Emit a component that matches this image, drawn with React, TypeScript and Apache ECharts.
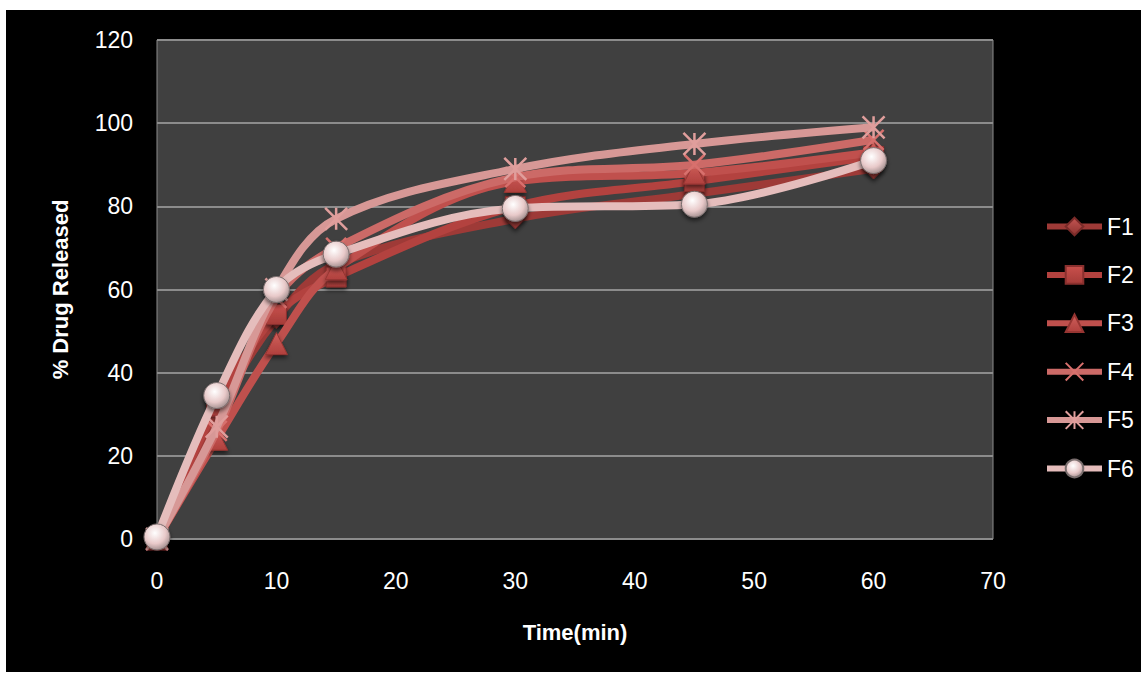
import React, { useEffect, useRef } from "react";
import * as echarts from "echarts";

const times = [0, 5, 10, 15, 30, 45, 60];
const F1 = [0, 30, 53, 66, 77, 83, 89];
const F2 = [0, 32, 54, 63, 80, 86, 92];
const F3 = [0, 24, 47, 65, 86, 88, 93];
const F4 = [0, 26, 58, 70, 87, 90, 96];
const F5 = [0, 27, 60, 77, 89, 95, 99];
const F6 = [0.5, 34.5, 60, 68.5, 79.5, 80.5, 91];
const seriesNames = ["F1", "F2", "F3", "F4", "F5", "F6"];
const seriesValues = [F1, F2, F3, F4, F5, F6];
const xTitle = "Time(min)";
const yTitle = "% Drug Released";

const lineColors = ["#9E3A37", "#B3423F", "#C0504D", "#CC6A67", "#D79896", "#E5BDBC"];

const FONT = "'Liberation Sans', Arial, sans-serif";

export default function App() {
  const ref = useRef<HTMLDivElement>(null);
  useEffect(() => {
    if (!ref.current) return;
    const chart = echarts.init(ref.current, null, { renderer: "svg" });
    const shadow = { shadowColor: "rgba(0,0,0,0.55)", shadowBlur: 4, shadowOffsetY: 3 };
    const markerDefs: any[] = [
      { symbol: "diamond", symbolSize: 20, itemStyle: { color: new echarts.graphic.LinearGradient(0, 0, 0, 1, [{ offset: 0, color: "#C45552" }, { offset: 1, color: "#8E3330" }]), borderColor: "#7A2B29", borderWidth: 1, ...shadow } },
      { symbol: "rect", symbolSize: 20, itemStyle: { color: new echarts.graphic.LinearGradient(0, 0, 0, 1, [{ offset: 0, color: "#C9504C" }, { offset: 1, color: "#A63C39" }]), borderColor: "#8A302E", borderWidth: 1, ...shadow } },
      { symbol: "triangle", symbolSize: 22, itemStyle: { color: new echarts.graphic.LinearGradient(0, 0, 0, 1, [{ offset: 0, color: "#D0605C" }, { offset: 1, color: "#B0403D" }]), borderColor: "#963532", borderWidth: 1, ...shadow } },
      { symbol: "path://M0,0L10,10M10,0L0,10", symbolSize: 20, itemStyle: { color: "transparent", borderColor: "#D8706D", borderWidth: 2.5 } },
      { symbol: "path://M5,0L5,10M0,0L10,10M10,0L0,10", symbolSize: 22, itemStyle: { color: "transparent", borderColor: "#E09E9C", borderWidth: 2.5 } },
      { symbol: "circle", symbolSize: 26, itemStyle: { color: new echarts.graphic.RadialGradient(0.42, 0.35, 0.75, [{ offset: 0, color: "#ffffff" }, { offset: 0.55, color: "#E8C9C9" }, { offset: 1, color: "#8E7E7E" }]), borderColor: "#7a6e6e", borderWidth: 1, ...shadow } },
    ];
    const series = seriesNames.map((name, i) => ({
      name,
      type: "line",
      smooth: 0.35,
      data: times.map((t, j) => [t, seriesValues[i][j]]),
      lineStyle: { color: lineColors[i], width: 8 },
      color: lineColors[i],
      symbol: markerDefs[i].symbol,
      symbolSize: markerDefs[i].symbolSize,
      itemStyle: markerDefs[i].itemStyle,
      z: 2 + i,
      emphasis: { disabled: true },
    }));
    chart.setOption({
      animation: false,
      backgroundColor: "#ffffff",
      graphic: [
        { type: "rect", z: -10, shape: { x: 6, y: 10, width: 1135, height: 662 }, style: { fill: "#000000" }, silent: true },
      ],
      grid: {
        left: 157, top: 40, width: 836, height: 499,
        show: true, backgroundColor: "#404040", borderColor: "#8C8C8C", borderWidth: 1,
      },
      xAxis: {
        type: "value", min: 0, max: 70, interval: 10,
        name: xTitle, nameLocation: "middle", nameGap: 82,
        nameTextStyle: { color: "#ffffff", fontFamily: FONT, fontSize: 22, fontWeight: "bold" },
        axisLine: { show: false }, axisTick: { show: false }, splitLine: { show: false },
        axisLabel: { color: "#ffffff", fontFamily: FONT, fontSize: 23, margin: 30 },
      },
      yAxis: {
        type: "value", min: 0, max: 120, interval: 20,
        name: yTitle, nameLocation: "middle", nameGap: 86, nameRotate: 90,
        nameTextStyle: { color: "#ffffff", fontFamily: FONT, fontSize: 22, fontWeight: "bold" },
        axisLine: { show: false }, axisTick: { show: false },
        splitLine: { show: true, lineStyle: { color: "#8C8C8C", width: 2 } },
        axisLabel: { color: "#ffffff", fontFamily: FONT, fontSize: 23, margin: 24 },
      },
      legend: {
        orient: "vertical", left: 1039, top: 210, padding: 5,
        itemWidth: 55, itemHeight: 22, itemGap: 25.4,
        lineStyle: { width: 6 },
        textStyle: { color: "#ffffff", fontFamily: FONT, fontSize: 23 },
        data: seriesNames,
      },
      series,
    });
    return () => chart.dispose();
  }, []);
  return (
    <div style={{ position: "absolute", left: 0, top: 0, width: 1147, height: 677, background: "#fff" }}>
      <div ref={ref} style={{ width: 1147, height: 677 }} />
    </div>
  );
}
